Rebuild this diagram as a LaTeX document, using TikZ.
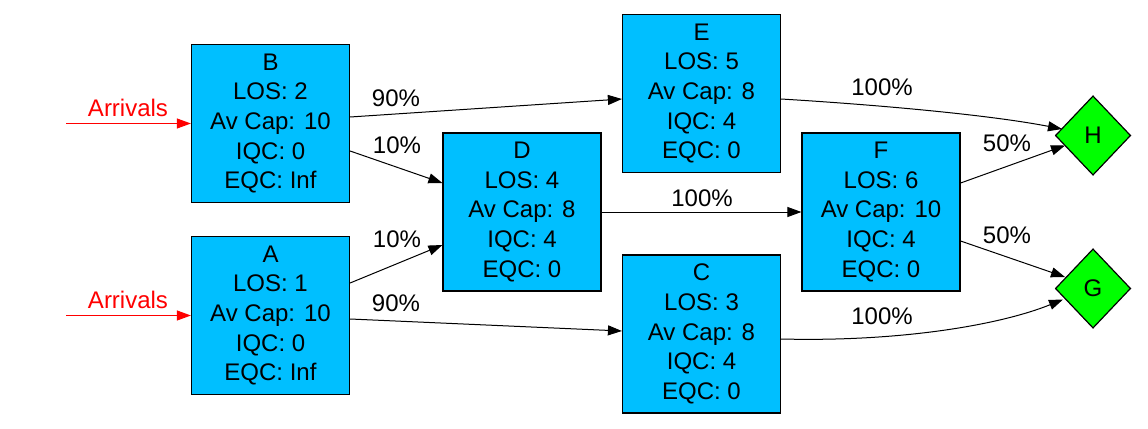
\documentclass[tikz,border=0pt]{standalone}
\usepackage{fontspec}
\setmainfont{Liberation Sans}
\usetikzlibrary{arrows.meta,shapes.geometric,calc}
\definecolor{boxblue}{RGB}{0,191,255}
\definecolor{sinkgreen}{RGB}{0,255,0}
\begin{document}
\begin{tikzpicture}[x=0.75pt,y=-0.75pt,
  every node/.style={font=\fontsize{18}{22.3}\selectfont},
  stbox/.style={draw=black, fill=boxblue, line width=0.9pt, minimum width=118.5pt, minimum height=118.5pt, align=center, inner sep=0pt},
  sink/.style={diamond, draw=black, fill=sinkgreen, line width=0.9pt, minimum width=56.5pt, minimum height=59.5pt, inner sep=0pt},
  flow/.style={-{Triangle[length=10.5pt,width=7.5pt]}, line width=0.75pt},
  arr/.style={flow, red},
  lbl/.style={inner sep=0pt}
]
\useasboundingbox (0,0) rectangle (1148,428);
% nodes
\node[stbox] (B) at (270.5,123.5) {B\\LOS: 2\\Av Cap: 10\\IQC: 0\\EQC: Inf};
\node[stbox] (A) at (270.5,315.5) {A\\LOS: 1\\Av Cap: 10\\IQC: 0\\EQC: Inf};
\node[stbox] (D) at (522,212) {D\\LOS: 4\\Av Cap: 8\\IQC: 4\\EQC: 0};
\node[stbox] (E) at (701.5,93.5) {E\\LOS: 5\\Av Cap: 8\\IQC: 4\\EQC: 0};
\node[stbox] (C) at (701.5,334) {C\\LOS: 3\\Av Cap: 8\\IQC: 4\\EQC: 0};
\node[stbox] (F) at (881,212) {F\\LOS: 6\\Av Cap: 10\\IQC: 4\\EQC: 0};
\node[sink] (H) at (1093,135.5) {H};
\node[sink] (G) at (1093,288.5) {G};
% arrivals
\coordinate (inB) at (66,123.5);
\coordinate (inA) at (66,315.5);
\draw[arr] (inB) -- (B.west);
\draw[arr] (inA) -- (A.west);
\node[lbl, red] (arrB) at (128,108) {Arrivals};
\node[lbl, red] (arrA) at (128,300) {Arrivals};
% edges
\draw[flow] ($(B.east)+(0,-6.5)$) -- ($(E.west)+(0,5.5)$);
\draw[flow] ($(B.east)+(0,27.5)$) -- ($(D.west)+(0,-29)$);
\draw[flow] ($(A.east)+(0,-32.5)$) -- ($(D.west)+(0,33)$);
\draw[flow] ($(A.east)+(0,3.5)$) -- ($(C.west)+(0,-3)$);
\draw[flow] (D.east) -- (F.west);
\draw[flow] ($(E.east)+(0,5.5)$) .. controls (880,105) and (990,115) .. ($(H.center)+(-31,-6.5)$);
\draw[flow] ($(F.east)+(0,-29)$) -- ($(H.center)+(-28,10)$);
\draw[flow] ($(F.east)+(0,29)$) -- ($(G.center)+(-28,-11.5)$);
\draw[flow] ($(C.east)+(0,5)$) .. controls (900,342) and (1000,325) .. ($(G.center)+(-30,11)$);
% labels
\node[lbl] (lBE) at (396,98) {90\%};
\node[lbl] (lBD) at (397,145) {10\%};
\node[lbl] (lAD) at (397,239) {10\%};
\node[lbl] (lAC) at (396,303) {90\%};
\node[lbl] (lDF) at (702,198) {100\%};
\node[lbl] (lEH) at (882,87) {100\%};
\node[lbl] (lFH) at (1007,143) {50\%};
\node[lbl] (lFG) at (1007,235) {50\%};
\node[lbl] (lCG) at (882,316) {100\%};
\end{tikzpicture}
\end{document}
